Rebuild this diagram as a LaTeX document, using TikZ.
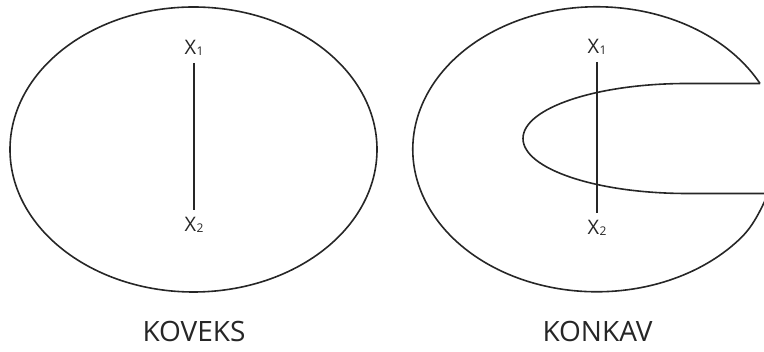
\documentclass[tikz,border=0pt]{standalone}
\usepackage{fontspec}
\setmainfont{Open Sans}
\usepackage{tikz}
\newcommand{\lowidx}[1]{\kern0.5pt\raisebox{-1.5pt}{\fontsize{12}{14}\selectfont #1}}

\begin{document}
\begin{tikzpicture}[x=1pt,y=1pt,
		outline/.style={line width=1.6pt, black!85},
		chord/.style={line width=1.3pt, black!85},
		pointlbl/.style={font=\fontsize{20}{24}\selectfont, text=black!85, inner sep=7pt},
		namelbl/.style={font=\fontsize{28}{34}\selectfont, text=black!85, anchor=base, inner sep=0pt}]
				\useasboundingbox (0,0) rectangle (764,352);
				\clip (0,0) rectangle (764,352);
				% Convex set
				\draw[outline] (193.5,202.5) ellipse[x radius=183.5, y radius=142.5];
				% Concave set
				\draw[outline] (760,268.5) arc[start angle=27.5, end angle=322, x radius=184, y radius=142.5]
					.. controls (752,125) and (760,140) .. (767,156);
				\draw[outline] (760,268.5) -- (687,268.5)
					arc[start angle=90, end angle=270, x radius=164, y radius=55] -- (770,158.5);
				% Points and segments
				\node[pointlbl, anchor=south] (ax1) at (194,289) {X\lowidx{1}};
				\node[pointlbl, anchor=north] (ax2) at (194,142) {X\lowidx{2}};
				\node[pointlbl, anchor=south] (bx1) at (597,290) {X\lowidx{1}};
				\node[pointlbl, anchor=north] (bx2) at (597,139) {X\lowidx{2}};
				\draw[chord] (ax1.south) -- (ax2.north);
				\draw[chord] (bx1.south) -- (bx2.north);
				% Names
				\node[namelbl] (koveks) at (194,10) {KOVEKS};
				\node[namelbl] (konkav) at (597.5,10) {KONKAV};
			\end{tikzpicture}
\end{document}
